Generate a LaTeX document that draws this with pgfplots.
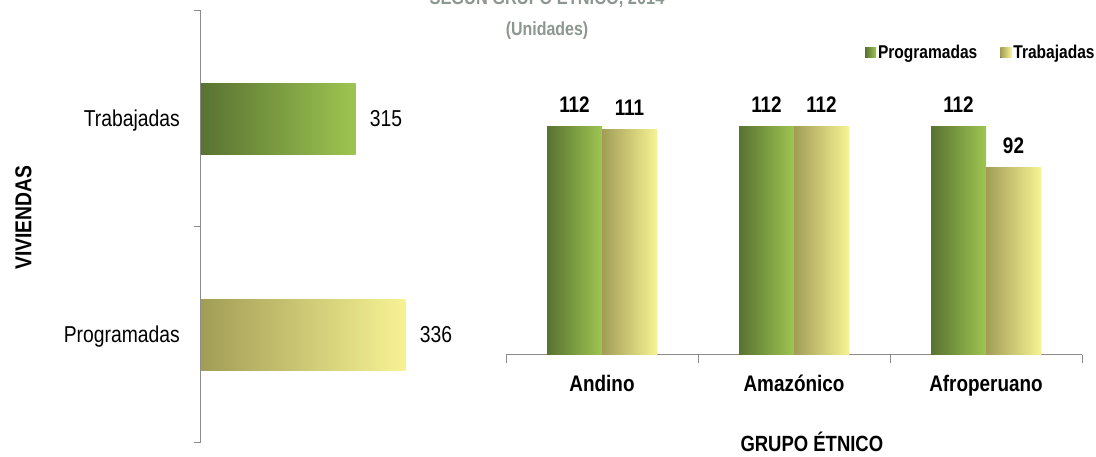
\documentclass[border=0pt]{standalone}
\usepackage{pgfplots}
\pgfplotsset{compat=1.18}
\usepackage{fontspec}
\setmainfont[FakeStretch=0.84]{Liberation Sans}
\definecolor{gL}{RGB}{89,114,50}
\definecolor{gM}{RGB}{126,160,69}
\definecolor{gR}{RGB}{158,197,81}
\definecolor{yL}{RGB}{162,157,86}
\definecolor{yM}{RGB}{228,227,128}
\definecolor{yR}{RGB}{247,243,148}
\definecolor{axgray}{RGB}{140,140,140}
\definecolor{titlegray}{RGB}{140,152,142}
\newcommand\fA{\fontsize{23}{27}\selectfont}
\newcommand\fB{\bfseries\fontsize{22.5}{27}\selectfont}
\pgfplotsset{/pgf/number format/assume math mode=true,
  greenbar/.style={draw=none, left color=gL, middle color=gM, right color=gR},
  yellowbar/.style={draw=none, left color=yL, middle color=yM, right color=yR}}
\begin{document}
\begin{tikzpicture}
% ---------- left chart ----------
\begin{axis}[
  at={(0pt,0pt)}, anchor=south west,
  scale only axis, width=238pt, height=432pt,
  xmin=0, xmax=100, ymin=-0.5, ymax=1.5,
  axis x line=none, axis y line*=left,
  y axis line style={axgray, line width=1pt},
  ytick={0,1}, yticklabels={Programadas,Trabajadas},
  major tick length=0pt,
  extra y ticks={-0.5,0.5,1.5}, extra y tick labels={},
  extra y tick style={tick align=outside, major tick length=7pt, tick style={axgray, line width=1pt}},
  yticklabel style={anchor=base east, inner sep=0pt, xshift=-21pt, yshift=-8pt, font=\fA},
  ylabel={VIVIENDAS},
  every axis y label/.style={at={(rel axis cs:0,0.522)}, xshift=-177.5pt, rotate=90, anchor=center, font=\bfseries\fA},
  xbar, bar width=71pt,
  x filter/.expression={x-250},
  nodes near coords, point meta=explicit symbolic,
  every node near coord/.append style={anchor=base west, inner sep=0pt, xshift=14pt, yshift=-8pt, font=\fA, text=black},
  clip=false,
]
\addplot[bar shift=0pt, yellowbar] coordinates {(336,0) [336]};
\addplot[bar shift=0pt, greenbar] coordinates {(315,1) [315]};
\end{axis}
% ---------- right chart ----------
\begin{axis}[
  at={(305pt,88pt)}, anchor=south west,
  scale only axis, width=576pt, height=285pt,
  xmin=-0.5, xmax=2.5, ymin=0, ymax=140,
  axis x line*=bottom, axis y line=none,
  x axis line style={axgray, line width=1pt},
  xtick={0,1,2}, xticklabels={Andino,Amazónico,Afroperuano},
  major tick length=0pt,
  extra x ticks={-0.5,0.5,1.5,2.5}, extra x tick labels={},
  extra x tick style={tick align=outside, major tick length=8pt, tick style={axgray, line width=1pt}},
  xticklabel style={anchor=base, inner sep=0pt, yshift=-37pt, font=\fB},
  xlabel={GRUPO ÉTNICO},
  every axis x label/.style={at={(rel axis cs:0.531,0)}, yshift=-97pt, anchor=base, font=\bfseries\fontsize{22}{26}\selectfont},
  ybar, bar width=55pt,
  nodes near coords,
  every node near coord/.append style={anchor=base, inner sep=0pt, yshift=14pt, font=\fB, text=black},
  legend style={at={(rel axis cs:0.623,1.06)}, anchor=west, draw=none, fill=none, inner sep=0pt,
    font=\bfseries\fontsize{18.5}{22}\selectfont, legend columns=2,
    /tikz/every even column/.append style={column sep=21pt}},
  legend image code/.code={\fill[#1] (0pt,-5pt) rectangle (11pt,5pt);},
  clip=false,
]
% Programadas
\addplot[bar shift=-27.5pt, greenbar] coordinates {(0,112)};
\addplot[bar shift=27.5pt, yellowbar] coordinates {(0,111)};
\addplot[forget plot, bar shift=-27.5pt, greenbar] coordinates {(1,112)};
\addplot[forget plot, bar shift=-27.5pt, greenbar] coordinates {(2,112)};
% Trabajadas
\addplot[forget plot, bar shift=27.5pt, yellowbar] coordinates {(1,112)};
\addplot[forget plot, bar shift=27.5pt, yellowbar] coordinates {(2,92)};
\legend{Programadas,Trabajadas}
\end{axis}
% ---------- title (cut at top) ----------
\node[anchor=base, inner sep=0pt, text=titlegray, font=\bfseries\fontsize{19.5}{23}\selectfont] at (346pt,438pt) {SEGÚN GRUPO ÉTNICO, 2014};
\node[anchor=base, inner sep=0pt, text=titlegray, font=\bfseries\fontsize{19}{23}\selectfont] at (346pt,407pt) {(Unidades)};
\pgfresetboundingbox
\path[use as bounding box] (-201pt,-14pt) rectangle (895pt,443pt);
\end{tikzpicture}
\end{document}
